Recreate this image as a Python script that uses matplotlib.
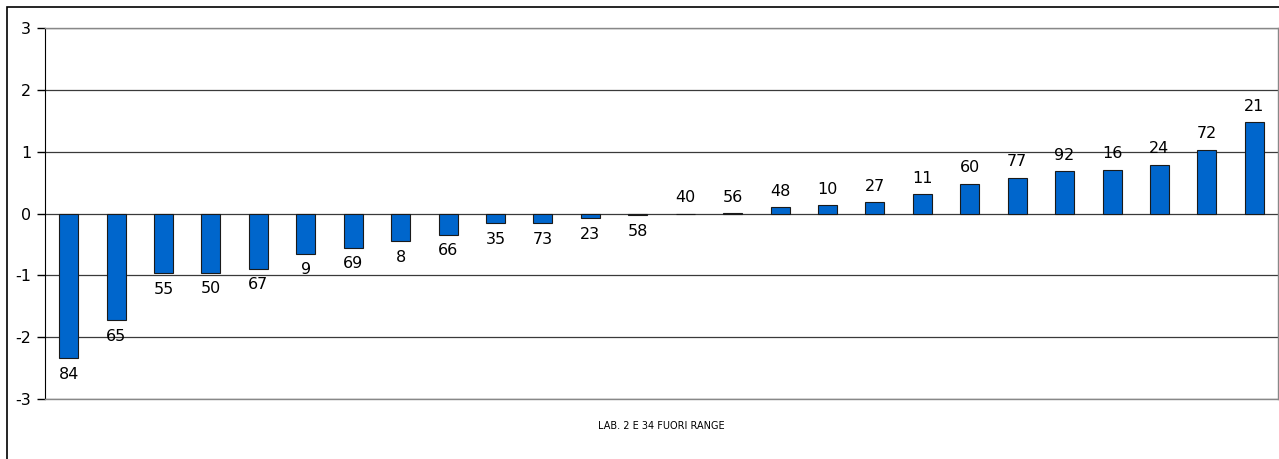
import matplotlib
matplotlib.use("Agg")
import matplotlib.pyplot as plt
from matplotlib.patches import Rectangle

labels = ["84", "65", "55", "50", "67", "9", "69", "8", "66", "35", "73", "23", "58",
          "40", "56", "48", "10", "27", "11", "60", "77", "92", "16", "24", "72", "21"]
values = [-2.34, -1.73, -0.97, -0.96, -0.90, -0.65, -0.56, -0.45, -0.34, -0.16, -0.16,
          -0.08, -0.03, 0.0, 0.01, 0.10, 0.13, 0.18, 0.31, 0.48, 0.58, 0.69, 0.71, 0.79,
          1.03, 1.48]
yticks = [-3, -2, -1, 0, 1, 2, 3]
title = "LAB. 2 E 34 FUORI RANGE"

W, H = 1279, 459
fig = plt.figure(figsize=(W / 100, H / 100), dpi=100)
fig.patches.append(Rectangle((7 / W, -0.1), 1.2, 1.1 - 7 / H, transform=fig.transFigure,
                             fill=False, edgecolor="black", linewidth=1.2))

ax = fig.add_axes([45 / W, (H - 399) / H, (1278 - 45) / W, (399 - 28) / H])
x = list(range(len(values)))
ax.bar(x, values, width=0.4, color="#0066CC", edgecolor="#1a1a1a", linewidth=0.8, zorder=3)
ax.set_xlim(-0.5, len(values) - 0.5)
ax.set_ylim(-3, 3)
ax.set_yticks(yticks)
ax.set_yticklabels([str(t) for t in yticks], fontsize=11.5)
ax.set_xticks([])
ax.grid(axis="y", color="#3a3a3a", linewidth=0.9, zorder=1)
for s in ["top", "right", "bottom"]:
    ax.spines[s].set_color("#888888")
    ax.spines[s].set_linewidth(1.0)
ax.spines["left"].set_color("black")
ax.tick_params(axis="y", length=6, width=1, direction="out", pad=4)

for xi, v, lab in zip(x, values, labels):
    if v >= 0:
        ax.annotate(lab, (xi, v), xytext=(0, 6), textcoords="offset points",
                    ha="center", va="bottom", fontsize=11.5, zorder=4)
    else:
        ax.annotate(lab, (xi, v), xytext=(0, -6), textcoords="offset points",
                    ha="center", va="top", fontsize=11.5, zorder=4)

fig.text((45 + 1278) / 2 / W, 1 - 426 / H, title, ha="center", va="center", fontsize=7)

fig.savefig("out.png", dpi=100)
